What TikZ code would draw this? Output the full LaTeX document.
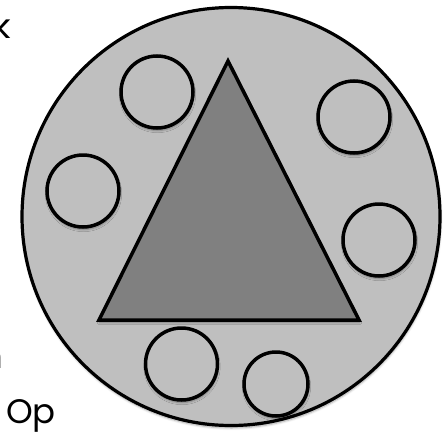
\documentclass[tikz,border=0pt]{standalone}
\usepackage{fontspec}
\setmainfont{Poppins}
\usetikzlibrary{shadows.blur}
\definecolor{cellgray}{RGB}{191,191,191}
\definecolor{coregray}{RGB}{128,128,128}
\tikzset{
  softshadow/.style={blur shadow={shadow xshift=0.5pt, shadow yshift=-2.5pt,
    shadow blur steps=6, shadow opacity=35}},
  cell/.style={circle, draw=black, fill=cellgray, line width=3.2pt,
    inner sep=0pt, minimum size=418pt, softshadow},
  vesicle/.style={circle, draw=black, fill=cellgray, line width=3.5pt,
    inner sep=0pt, minimum size=72pt, softshadow},
  core/.style={draw=black, fill=coregray, line width=3.5pt,
    line join=miter, softshadow},
  frag/.style={inner sep=0pt, font=\fontsize{34}{40}\selectfont}
}

\begin{document}
\begin{tikzpicture}[x=1pt, y=-1pt]
  \useasboundingbox (0,0) rectangle (446,431);

  % outer membrane
  \node[cell] (cell) at (231,216.5) {};

  % core triangle
  \coordinate (top) at (228,61);
  \coordinate (bl) at (99,320);
  \coordinate (br) at (359,320);
  \path[core] (top) -- (bl) -- (br) -- cycle;

  % small circles
  \node[vesicle] (v1) at (157,92) {};
  \node[vesicle] (v2) at (354,117) {};
  \node[vesicle] (v3) at (83,191) {};
  \node[vesicle] (v4) at (379,240) {};
  \node[vesicle] (v5) at (181.5,364) {};
  \node[vesicle, minimum size=64pt] (v6) at (276,384) {};

  % cut-off labels
  \node[frag, anchor=base east] (lk) at (11,38) {k};
  \node[frag, anchor=base east] (ln) at (3.5,368) {n};
  \node[frag, anchor=base west] (lop) at (6,423) {Op};
\end{tikzpicture}
\end{document}
